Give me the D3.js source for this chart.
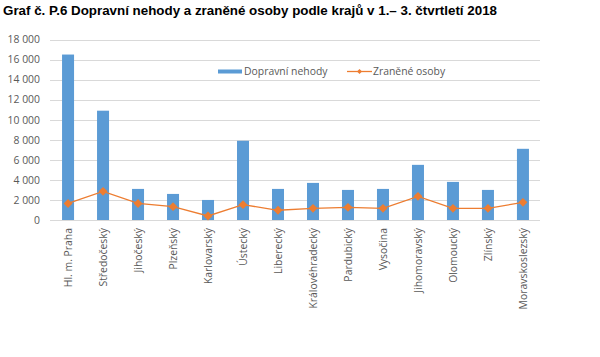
<!DOCTYPE html>
<html><head><meta charset="utf-8">
<script src="https://cdn.jsdelivr.net/npm/d3@7"></script>
<style>body{margin:0;background:#fff}svg{display:block}</style>
</head><body>
<script>
const categories = ["Hl. m. Praha","Středočeský","Jihočeský","Plzeňský","Karlovarský","Ústecký","Liberecký","Královéhradecký","Pardubický","Vysočina","Jihomoravský","Olomoucký","Zlínský","Moravskoslezský"];
const nehody = [16500,10900,3100,2600,2000,7900,3100,3700,3000,3100,5500,3800,3000,7100];
const zranene = [1650,2860,1650,1330,400,1530,970,1160,1260,1160,2360,1160,1160,1760];
const yTicks = [0,2000,4000,6000,8000,10000,12000,14000,16000,18000];
const seriesNames = ["Dopravní nehody","Zraněné osoby"];
const title = "Graf č. P.6 Dopravní nehody a zraněné osoby podle krajů v 1.– 3. čtvrtletí 2018";

const W=600,H=357;
const svg=d3.select("body").append("svg").attr("width",W).attr("height",H);
const font="'Open Sans', sans-serif";
const fs=10.4;
const x=d3.scaleBand().domain(categories).range([50.5,540.5]).paddingInner(0.657).paddingOuter(0.33);
const y=d3.scaleLinear().domain([0,18000]).range([220,39.5]);

svg.append("text").attr("x",3).attr("y",15).text(title)
  .attr("font-family","'Liberation Sans', Arial, sans-serif").attr("font-weight","bold").attr("font-size",13.2).attr("fill","#000")
  .attr("textLength",494).attr("lengthAdjust","spacingAndGlyphs");

const fmt=v=>d3.format(",")(v).replace(/,/g," ");
const gy=svg.append("g").attr("transform","translate(50,0)")
  .call(d3.axisLeft(y).tickValues(yTicks).tickSize(-490).tickFormat(fmt).tickPadding(10));
gy.select(".domain").remove();
gy.selectAll(".tick line").attr("stroke","#d9d9d9").attr("shape-rendering","crispEdges");
gy.selectAll(".tick text").attr("fill","#595959").attr("font-family",font).attr("font-size",fs);

svg.selectAll(".bar").data(categories).enter().append("rect")
  .attr("x",d=>x(d)).attr("width",x.bandwidth())
  .attr("y",(d,i)=>y(nehody[i])).attr("height",(d,i)=>y(0)-y(nehody[i]))
  .attr("fill","#5b9bd5");

const gx=svg.append("g").attr("transform","translate(0,220)")
  .call(d3.axisBottom(x).tickSize(0).tickPadding(0));
gx.select(".domain").attr("stroke","#d9d9d9").attr("d","M50,0.5H540");
gx.selectAll(".tick text").attr("transform","translate(0,8) rotate(-90)")
  .attr("text-anchor","end").attr("dy","0.35em").attr("dx","0")
  .attr("fill","#595959").attr("font-family",font).attr("font-size",fs);

const line=d3.line().x((d,i)=>x(categories[i])+x.bandwidth()/2).y(d=>y(d));
svg.append("path").datum(zranene).attr("d",line).attr("fill","none").attr("stroke","#ed7d31").attr("stroke-width",1.3);
const sym=d3.symbol().type(d3.symbolDiamond2).size(50);
svg.selectAll(".mk").data(zranene).enter().append("path")
  .attr("d",sym).attr("transform",(d,i)=>`translate(${x(categories[i])+x.bandwidth()/2},${y(d)})`)
  .attr("fill","#ed7d31");

// legend
const lg=svg.append("g");
lg.append("rect").attr("x",218).attr("y",69.5).attr("width",24).attr("height",4).attr("fill","#5b9bd5");
lg.append("text").attr("x",244).attr("y",71.5).attr("dy","0.35em").text(seriesNames[0]).attr("fill","#595959").attr("font-family",font).attr("font-size",fs);
lg.append("line").attr("x1",347).attr("x2",372).attr("y1",71.5).attr("y2",71.5).attr("stroke","#ed7d31").attr("stroke-width",1.3);
lg.append("path").attr("d",d3.symbol().type(d3.symbolDiamond2).size(16)).attr("transform","translate(359.5,71.5)").attr("fill","#ed7d31");
lg.append("text").attr("x",373).attr("y",71.5).attr("dy","0.35em").text(seriesNames[1]).attr("fill","#595959").attr("font-family",font).attr("font-size",fs);
</script>
</body></html>
